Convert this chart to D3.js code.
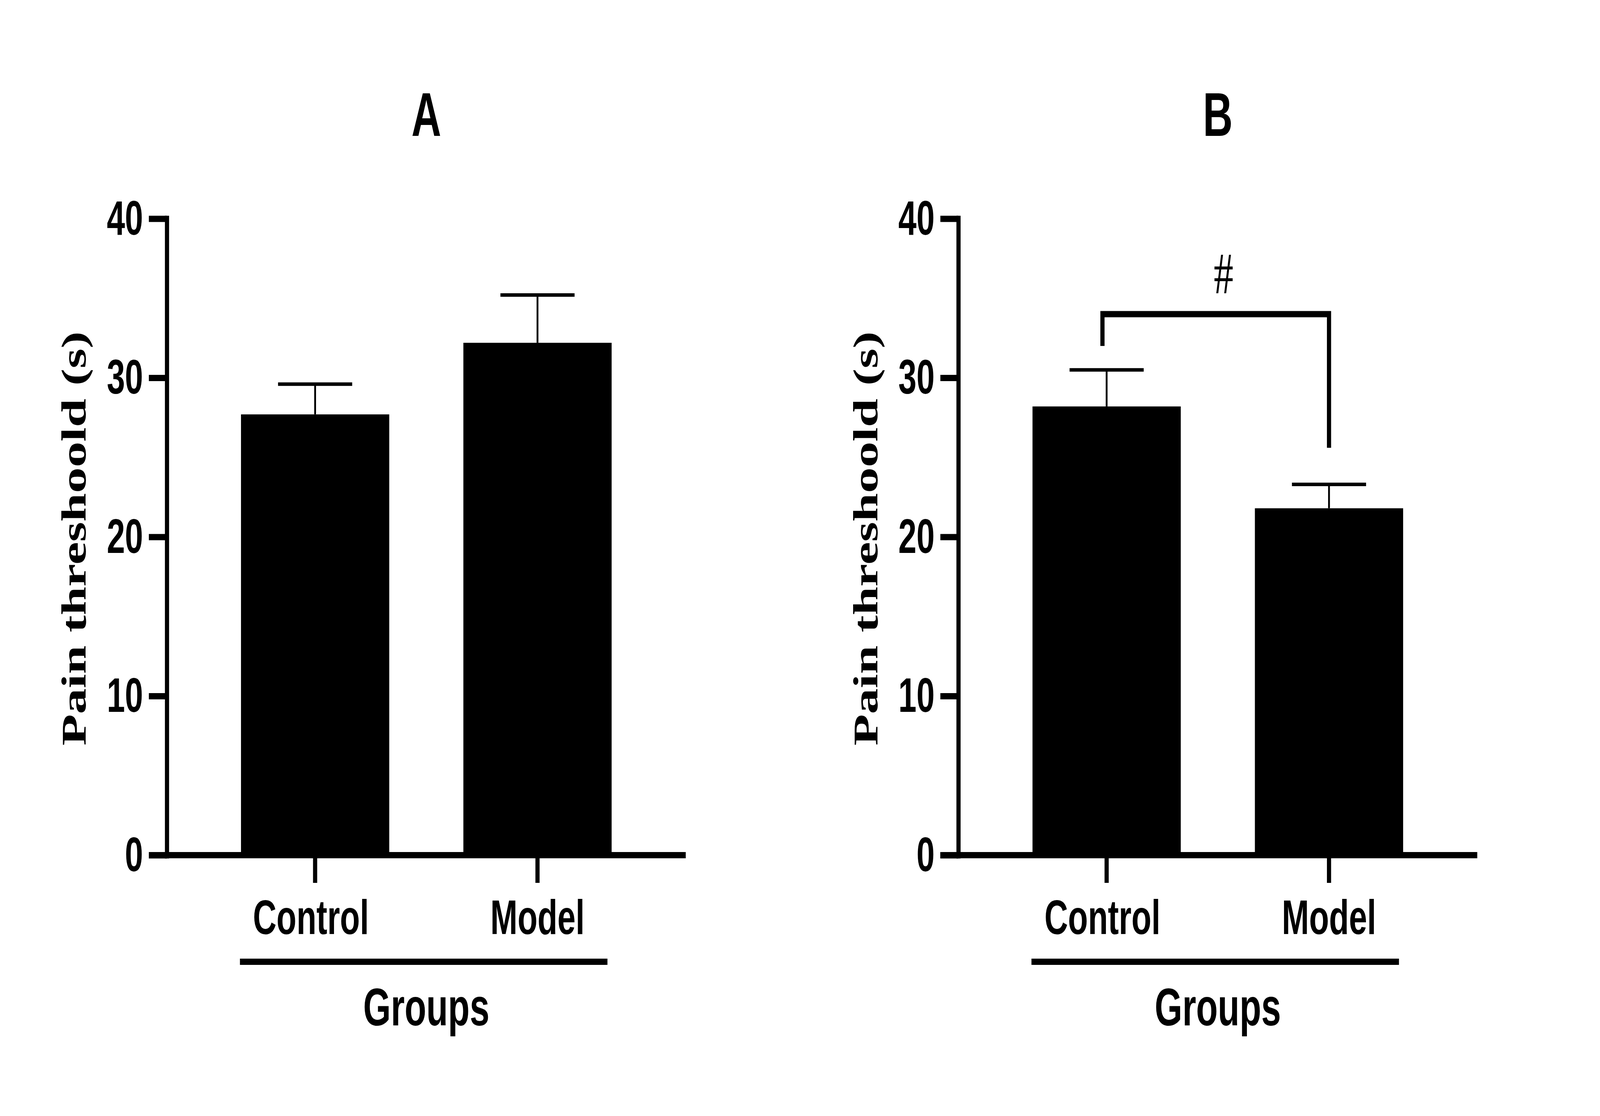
<!DOCTYPE html>
<html>
<head>
<meta charset="utf-8">
<script src="https://cdn.jsdelivr.net/npm/d3@7"></script>
<style>
  html, body { margin: 0; padding: 0; background: #fff; width: 100%; height: 100%; overflow: hidden; }
  svg { display: block; width: 100vw; height: 100vh; }
  .sans { font-family: "Liberation Sans", Arial, Helvetica, sans-serif; font-weight: bold; }
  .serif { font-family: "Liberation Serif", "Times New Roman", serif; }
</style>
</head>
<body>
<svg id="chart"></svg>
<script>
// ---- data ----
const categories = ['Control', 'Model'];
const yTicks = [0, 10, 20, 30, 40];

const panelTitles = ['A', 'B'];
const yLabel = 'Pain threshoold (s)';
const xLabel = 'Groups';

// means and SEM (upper error only)
const meansA = [27.7, 32.2];
const errorsA = [1.9, 3.0];
const meansB = [28.2, 21.8];
const errorsB = [2.3, 1.5];

// significance bracket in panel B: [left end, top, right end] in y units
const bracketB = [32.0, 34.0, 25.6];
const bracketLabel = '#';

// ---- layout ----
const W = 6127, H = 2858;
const panelOffsets = [0, 3031];
const axisLeft = 639, axisRight = 2626;
const yTop = 560, yBottom = 2190;
const axisStroke = 16;

// the drawing is laid out on a 6127x2858 grid and stretched onto the window
const svg = d3.select('#chart')
  .attr('viewBox', `0 0 ${W} ${H}`)
  .attr('preserveAspectRatio', 'none');
svg.append('rect').attr('width', W).attr('height', H).attr('fill', '#fff');

const x = d3.scaleBand()
  .domain(categories)
  .range([axisLeft, axisRight])
  .padding(1 / 3);

const y = d3.scaleLinear()
  .domain([0, 40])
  .range([yBottom, yTop]);

function drawPanel(index, means, errors) {
  const g = svg.append('g').attr('transform', `translate(${panelOffsets[index]},0)`);
  const midX = (axisLeft + axisRight) / 2;

  // TITLE
  g.append('text')
    .attr('class', 'sans')
    .attr('x', midX)
    .attr('y', 348)
    .attr('text-anchor', 'middle')
    .style('font-size', '158px')
    .text(panelTitles[index]);

  // BARS
  g.selectAll('.bar')
    .data(categories)
    .enter()
    .append('rect')
    .attr('class', 'bar')
    .attr('x', d => x(d))
    .attr('y', (d, i) => y(means[i]))
    .attr('width', x.bandwidth())
    .attr('height', (d, i) => y(0) - y(means[i]))
    .attr('fill', '#000');

  // ERROR BARS
  const err = g.selectAll('.err')
    .data(categories)
    .enter()
    .append('g')
    .attr('class', 'err')
    .attr('transform', d => `translate(${x(d) + x.bandwidth() / 2},0)`);

  err.append('line')
    .attr('x1', 0).attr('x2', 0)
    .attr('y1', (d, i) => y(means[i]))
    .attr('y2', (d, i) => y(means[i] + errors[i]))
    .attr('stroke', '#000')
    .attr('stroke-width', 7);

  err.append('line')
    .attr('x1', -x.bandwidth() / 4).attr('x2', x.bandwidth() / 4)
    .attr('y1', (d, i) => y(means[i] + errors[i]))
    .attr('y2', (d, i) => y(means[i] + errors[i]))
    .attr('stroke', '#000')
    .attr('stroke-width', 9);

  // Y AXIS
  const yAxis = d3.axisLeft(y)
    .tickValues(yTicks)
    .tickSize(69)
    .tickSizeOuter(0)
    .tickPadding(22);

  const ya = g.append('g')
    .attr('transform', `translate(${axisLeft},0)`)
    .call(yAxis);
  ya.select('.domain')
    .attr('stroke-width', axisStroke)
    .attr('stroke-linecap', 'square');
  ya.selectAll('.tick line').attr('stroke-width', axisStroke);
  ya.selectAll('.tick text')
    .attr('class', 'sans')
    .attr('fill', '#000')
    .style('font-size', '125px');

  // X AXIS
  const xAxis = d3.axisBottom(x)
    .tickSize(71)
    .tickSizeOuter(0);

  const xa = g.append('g')
    .attr('transform', `translate(0,${yBottom})`)
    .call(xAxis);
  xa.select('.domain').remove();
  xa.append('line')
    .attr('x1', axisLeft - 69).attr('x2', axisRight)
    .attr('y1', 0).attr('y2', 0)
    .attr('stroke', '#000')
    .attr('stroke-width', axisStroke);
  xa.selectAll('.tick line').attr('stroke-width', axisStroke);
  xa.selectAll('.tick text')
    .attr('class', 'sans')
    .attr('fill', '#000')
    .attr('y', 202)
    .attr('dy', 0)
    .attr('dx', d => d === 'Control' ? -16 : 0)
    .style('font-size', '125px');

  // GROUP LINE + LABEL
  g.append('line')
    .attr('x1', x(categories[0]) - 4)
    .attr('x2', x(categories[1]) + x.bandwidth() - 16)
    .attr('y1', 2463).attr('y2', 2463)
    .attr('stroke', '#000')
    .attr('stroke-width', axisStroke);

  g.append('text')
    .attr('class', 'sans')
    .attr('x', midX)
    .attr('y', 2626)
    .attr('text-anchor', 'middle')
    .style('font-size', '136px')
    .text(xLabel);

  // Y LABEL
  g.append('text')
    .attr('class', 'serif')
    .attr('transform', 'translate(328,1379) rotate(-90)')
    .attr('text-anchor', 'middle')
    .style('font-size', '132px')
    .style('font-weight', 'bold')
    .text(yLabel);

  return g;
}

drawPanel(0, meansA, errorsA);
const gB = drawPanel(1, meansB, errorsB);

// SIGNIFICANCE BRACKET (panel B)
const leftX = x(categories[0]) + x.bandwidth() / 2 - 16;
const rightX = x(categories[1]) + x.bandwidth() / 2;
gB.append('path')
  .attr('d', `M${leftX},${y(bracketB[0])}V${y(bracketB[1])}H${rightX}V${y(bracketB[2])}`)
  .attr('fill', 'none')
  .attr('stroke', '#000')
  .attr('stroke-width', axisStroke)
  .attr('stroke-linejoin', 'miter');

gB.append('text')
  .attr('class', 'serif')
  .attr('x', (leftX + rightX) / 2 + 30)
  .attr('y', 751)
  .attr('text-anchor', 'middle')
  .style('font-size', '150px')
  .text(bracketLabel);
</script>
</body>
</html>
